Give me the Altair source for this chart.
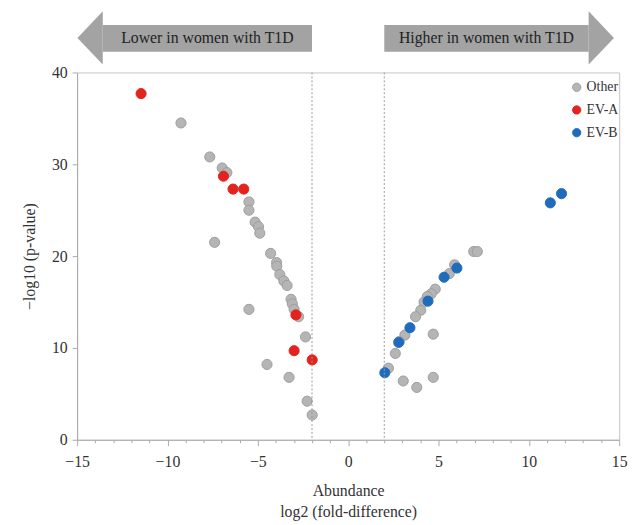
import altair as alt
import pandas as pd

# ---- data ----
other_x = [-9.25, -7.66, -6.97, -6.71, -5.49, -5.49, -5.15, -4.96, -4.89, -7.39, -4.29,
           -3.96, -3.95, -3.78, -3.56, -3.38, -3.16, -3.09, -2.99, -2.74, -5.49, -2.36,
           -4.49, -3.27, -2.27, -1.99,
           6.95, 7.15, 5.89, 5.60, 4.82, 4.60, 4.38, 4.20, 4.02, 3.73, 4.71, 3.14, 2.83,
           2.61, 2.23, 3.05, 3.80, 4.71]
other_y = [34.5, 30.8, 29.6, 29.1, 25.9, 25.0, 23.7, 23.2, 22.5, 21.5, 20.3,
           19.3, 18.9, 18.0, 17.3, 16.8, 15.3, 14.8, 14.2, 13.4, 14.2, 11.2,
           8.2, 6.8, 4.2, 2.7,
           20.5, 20.5, 19.05, 18.1, 16.4, 15.9, 15.6, 15.0, 14.1, 13.4, 11.5, 11.4, 10.7,
           9.4, 7.8, 6.4, 5.7, 6.8]
eva_x = [-11.46, -6.90, -6.37, -5.78, -2.89, -2.99, -1.99]
eva_y = [37.7, 28.7, 27.3, 27.3, 13.6, 9.7, 8.7]
evb_x = [11.81, 11.19, 6.02, 5.31, 4.42, 3.42, 2.80, 2.03]
evb_y = [26.8, 25.8, 18.7, 17.7, 15.1, 12.2, 10.6, 7.3]

groups = ["Other", "EV-A", "EV-B"]
fill_colors = ["#b5b5b5", "#e3231e", "#1f6cbd"]
stroke_colors = ["#9c9c9c", "#e3231e", "#1f6cbd"]

cutoffs = [-2, 2]

arrow_labels = ["Lower in women with T1D", "Higher in women with T1D"]
arrow_body_start = [-13.58, 2.0]
arrow_body_end = [-2.0, 13.31]
arrow_head_base = [-13.58, 13.31]
arrow_dir = ["left", "right"]

# ---- tables ----
rows = []
for g, xs, ys in [("Other", other_x, other_y), ("EV-A", eva_x, eva_y), ("EV-B", evb_x, evb_y)]:
    for xv, yv in zip(xs, ys):
        rows.append({"x": xv, "y": yv, "group": g, "ord": groups.index(g)})
df = pd.DataFrame(rows)

arrows = pd.DataFrame({
    "label": arrow_labels,
    "x1": arrow_body_start,
    "x2": arrow_body_end,
    "xc": [(a + b) / 2 for a, b in zip(arrow_body_start, arrow_body_end)],
    "head": arrow_head_base,
    "dir": arrow_dir,
})
cut_df = pd.DataFrame({"x": cutoffs})

FONT = "Liberation Serif"
xscale = alt.Scale(domain=[-15, 15], nice=False, zero=False)
yscale = alt.Scale(domain=[0, 40], nice=False)

x_axis = alt.Axis(
    values=list(range(-15, 16)),
    labelExpr="abs(datum.value % 5) < 0.001 ? (datum.value < 0 ? '\u2212' + abs(datum.value) : '' + datum.value) : ''",
    tickSize={"condition": {"test": "abs(datum.value % 5) < 0.001", "value": 6}, "value": 3},
    labelPadding=8,
    labelFlush=False,
    labelOverlap=False,
    labelBound=False,
    labelFont=FONT,
    labelFontSize=16,
    titleFont=FONT,
    titleFontSize=16,
    titleFontWeight="normal",
    title=["Abundance", "log2 (fold-difference)"],
    titlePadding=13,
    titleLineHeight=22,
)
y_axis = alt.Axis(
    values=[0, 10, 20, 30, 40],
    tickSize=5,
    labelPadding=5,
    labelFlush=False,
    labelFont=FONT,
    labelFontSize=16,
    titleFont=FONT,
    titleFontSize=16,
    titleFontWeight="normal",
    title="\u2212log10 (p-value)",
    titlePadding=14,
)

legend = alt.Legend(title=None, orient="none", legendX=499, legendY=8,
                    symbolSize=70, labelFontSize=14, labelFont=FONT,
                    labelColor="#333", rowPadding=9, labelOffset=3,
                    padding=0, symbolStrokeWidth=1)

points = alt.Chart(df).mark_circle(size=105, opacity=1, strokeWidth=1).encode(
    x=alt.X("x:Q", scale=xscale, axis=x_axis),
    y=alt.Y("y:Q", scale=yscale, axis=y_axis),
    color=alt.Color("group:N", scale=alt.Scale(domain=groups, range=fill_colors), legend=legend),
    stroke=alt.Stroke("group:N", scale=alt.Scale(domain=groups, range=stroke_colors), legend=legend),
    order=alt.Order("ord:Q"),
)

rules = alt.Chart(cut_df).mark_rule(color="#9a9a9a", strokeDash=[2, 2], strokeWidth=1).encode(
    x=alt.X("x:Q", scale=xscale, axis=x_axis)
)

ARROW_GRAY = "#a3a3a3"
bodies = alt.Chart(arrows).mark_rect(color=ARROW_GRAY).encode(
    x=alt.X("x1:Q", scale=xscale, axis=x_axis),
    x2="x2:Q",
    y=alt.value(-48),
    y2=alt.value(-21),
)
head_left = alt.Chart(arrows).transform_filter("datum.dir === 'left'").mark_point(
    shape="M 0 -1 L 0 1 L -0.95 0 Z", filled=True, color=ARROW_GRAY, opacity=1, size=2916,
    strokeWidth=0,
).encode(x=alt.X("head:Q", scale=xscale, axis=x_axis), y=alt.value(-35))
head_right = alt.Chart(arrows).transform_filter("datum.dir === 'right'").mark_point(
    shape="M 0 -1 L 0 1 L 0.95 0 Z", filled=True, color=ARROW_GRAY, opacity=1, size=2916,
    strokeWidth=0,
).encode(x=alt.X("head:Q", scale=xscale, axis=x_axis), y=alt.value(-35))
labels = alt.Chart(arrows).mark_text(font=FONT, fontSize=16, color="#222", baseline="middle",
                                     align="center").encode(
    x=alt.X("xc:Q", scale=xscale, axis=x_axis),
    y=alt.value(-35),
    text="label:N",
)

chart = alt.layer(points, rules, bodies, head_left, head_right, labels).properties(
    width=549, height=372,
    padding={"left": 14, "top": 0, "right": 5, "bottom": 0},
).configure_view(
    stroke="#c4c4c4", strokeWidth=1
).configure_axis(
    labelFont=FONT, titleFont=FONT, labelFontSize=16, titleFontSize=16,
    labelColor="#333", titleColor="#333", domainColor="#aaaaaa", tickColor="#aaaaaa",
    grid=False, titleFontWeight="normal",
)

chart.save("out.html", embed_options={"renderer": "svg", "actions": False})
